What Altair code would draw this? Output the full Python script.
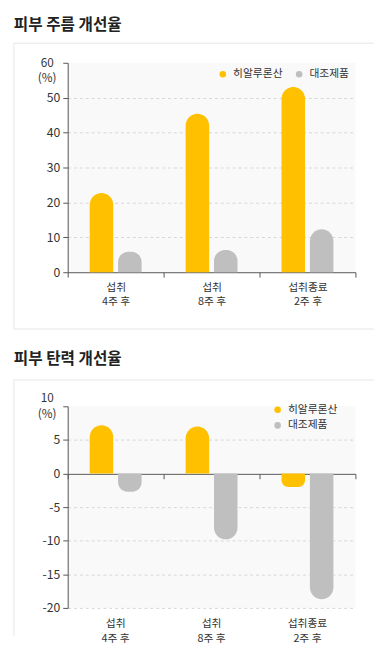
import altair as alt
import pandas as pd

categories = ["섭취\n4주 후", "섭취\n8주 후", "섭취종료\n2주 후"]
series = ["히알루론산", "대조제품"]
wrinkle_ha = [22.7, 45.4, 53.1]
wrinkle_ctrl = [5.9, 6.4, 12.3]
elastic_ha = [7.2, 7.0, -2.0]
elastic_ctrl = [-2.7, -9.8, -18.7]
wrinkle_ticks = [0, 10, 20, 30, 40, 50, 60]
elastic_ticks = [-20, -15, -10, -5, 0, 5, 10]
titles = ["피부 주름 개선율", "피부 탄력 개선율"]
unit = "(%)"
colors = ["#FFC000", "#BFBFBF"]

FONT = "Noto Sans CJK KR"
W = 294
H1, H2 = 214, 206
AX = "#555555"
CARD = "#e6e6e6"
TXT = "#333333"
R = 12


def frame(ha, ctrl):
    rows = []
    for c, a, b in zip(categories, ha, ctrl):
        rows.append({"cat": c, "series": series[0], "value": a})
        rows.append({"cat": c, "series": series[1], "value": b})
    return pd.DataFrame(rows)


x_scale = alt.Scale(domain=categories, paddingInner=0, paddingOuter=0)
xo_scale = alt.Scale(domain=series, paddingInner=0.172, paddingOuter=0.776)
color_scale = alt.Scale(domain=series, range=colors)


def y_axis(ticks):
    top = ticks[-1]
    return alt.Axis(
        values=ticks,
        labelExpr=f"datum.value == {top} ? '' : '' + datum.value",
        labelOverlap=False,
        grid=True,
        gridDash=[3, 3],
        gridColor="#d6d6d6",
        gridOpacity={"condition": {"test": f"datum.value == {top} || datum.value == 0", "value": 0}, "value": 1},
        domainColor=AX,
        tickColor=AX,
        tickSize=5,
        labelPadding=3,
        labelFontSize=12.5,
        labelColor=TXT,
        labelFont=FONT,
        title=None,
    )


def bars(df, yscale, ticks, xaxis, legend):
    return alt.Chart(df).mark_bar(
        cornerRadiusTopLeft=alt.ExprRef(f"datum.value >= 0 ? {R} : 0"),
        cornerRadiusTopRight=alt.ExprRef(f"datum.value >= 0 ? {R} : 0"),
        cornerRadiusBottomLeft=alt.ExprRef(f"datum.value < 0 ? {R} : 0"),
        cornerRadiusBottomRight=alt.ExprRef(f"datum.value < 0 ? {R} : 0"),
    ).encode(
        x=alt.X("cat:N", sort=categories, scale=x_scale, axis=xaxis, title=None),
        xOffset=alt.XOffset("series:N", sort=series, scale=xo_scale),
        y=alt.Y("value:Q", scale=yscale, axis=y_axis(ticks), title=None, stack=None),
        color=alt.Color("series:N", scale=color_scale, sort=series, legend=legend),
    )


def text1(t, x, y, **kw):
    return alt.Chart(pd.DataFrame({"t": [t]})).mark_text(font=FONT, **kw).encode(
        x=alt.value(x), y=alt.value(y), text="t:N"
    )


def rule(x, x2, y, y2=None):
    enc = dict(x=alt.value(x), y=alt.value(y))
    if x2 is not None:
        enc["x2"] = alt.value(x2)
    if y2 is not None:
        enc["y2"] = alt.value(y2)
    return alt.Chart(pd.DataFrame({"a": [0]})).mark_rule(color=CARD, strokeWidth=1).encode(**enc)


legend_common = dict(
    title=None,
    symbolType="circle",
    symbolSize=45,
    symbolStrokeWidth=0,
    labelFontSize=11,
    labelFont=FONT,
    labelColor=TXT,
    labelOffset=5,
)

# ---------- chart 1 ----------
df1 = frame(wrinkle_ha, wrinkle_ctrl)
y1 = alt.Scale(domain=[wrinkle_ticks[0], wrinkle_ticks[-1]], nice=False)
x_axis1 = alt.Axis(
    tickBand="extent",
    labelExpr="split(datum.label, '\\n')",
    labelAngle=0,
    labelFontSize=11,
    labelLineHeight=14,
    labelPadding=5,
    labelColor=TXT,
    labelFont=FONT,
    domainColor=AX,
    tickColor=AX,
    tickSize=5,
    title=None,
)
leg1 = alt.Legend(orient="none", legendX=153, legendY=6, direction="horizontal",
                  columnPadding=11, **legend_common)
c1 = alt.layer(
    rule(-55, 313, -20),
    rule(-55, 313, H1 + 58),
    rule(-55, None, -20, H1 + 58),
    text1(titles[0], -55, -39, align="left", baseline="middle",
          fontSize=16, fontWeight="bold", color="#222222"),
    bars(df1, y1, wrinkle_ticks, x_axis1, leg1),
    text1(str(wrinkle_ticks[-1]), -21, 0, align="center",
          baseline="middle", fontSize=12, color=TXT),
    text1(unit, -21, 0, align="center", baseline="middle",
          fontSize=12, color=TXT, dy=16),
).properties(width=W, height=H1)

# ---------- chart 2 ----------
df2 = frame(elastic_ha, elastic_ctrl)
y2 = alt.Scale(domain=[elastic_ticks[0], elastic_ticks[-1]], nice=False)
zero_offset = -round(H2 * (0 - elastic_ticks[0]) / (elastic_ticks[-1] - elastic_ticks[0]))
x_axis2 = alt.Axis(
    orient="bottom",
    offset=zero_offset,
    tickBand="extent",
    labels=False,
    domainColor=AX,
    tickColor=AX,
    tickSize=5,
    title=None,
)
x_axis2_labels = alt.Axis(
    orient="bottom",
    domain=False,
    ticks=False,
    tickSize=0,
    labelExpr="split(datum.label, '\\n')",
    labelAngle=0,
    labelFontSize=11,
    labelLineHeight=15,
    labelPadding=10,
    labelColor=TXT,
    labelFont=FONT,
    title=None,
)
leg2 = alt.Legend(orient="none", legendX=209, legendY=-2, direction="vertical",
                  rowPadding=4, **legend_common)
label_layer = alt.Chart(pd.DataFrame({"cat": categories})).mark_text(text="", opacity=0).encode(
    x=alt.X("cat:N", sort=categories, scale=x_scale, axis=x_axis2_labels, title=None),
    y=alt.value(0),
)
c2 = alt.layer(
    rule(-55, 313, -27),
    rule(-55, None, -27, H2 + 29),
    text1(titles[1], -55, -48, align="left", baseline="middle",
          fontSize=16, fontWeight="bold", color="#222222"),
    bars(df2, y2, elastic_ticks, x_axis2, leg2),
    label_layer,
    text1(str(elastic_ticks[-1]), -21, 0, align="center",
          baseline="middle", fontSize=12, color=TXT, dy=-8),
    text1(unit, -21, 0, align="center", baseline="middle",
          fontSize=12, color=TXT, dy=8),
).resolve_axis(x="independent").properties(width=W, height=H2)

chart = alt.vconcat(c1, c2, spacing=22).resolve_scale(color="independent").properties(
    padding={"left": 5, "top": 2, "right": 0, "bottom": 0}
).configure_view(fill="#f9f9f9", stroke=None).configure_text(font=FONT)

chart.save("out.html", embed_options={"renderer": "svg", "actions": False})
